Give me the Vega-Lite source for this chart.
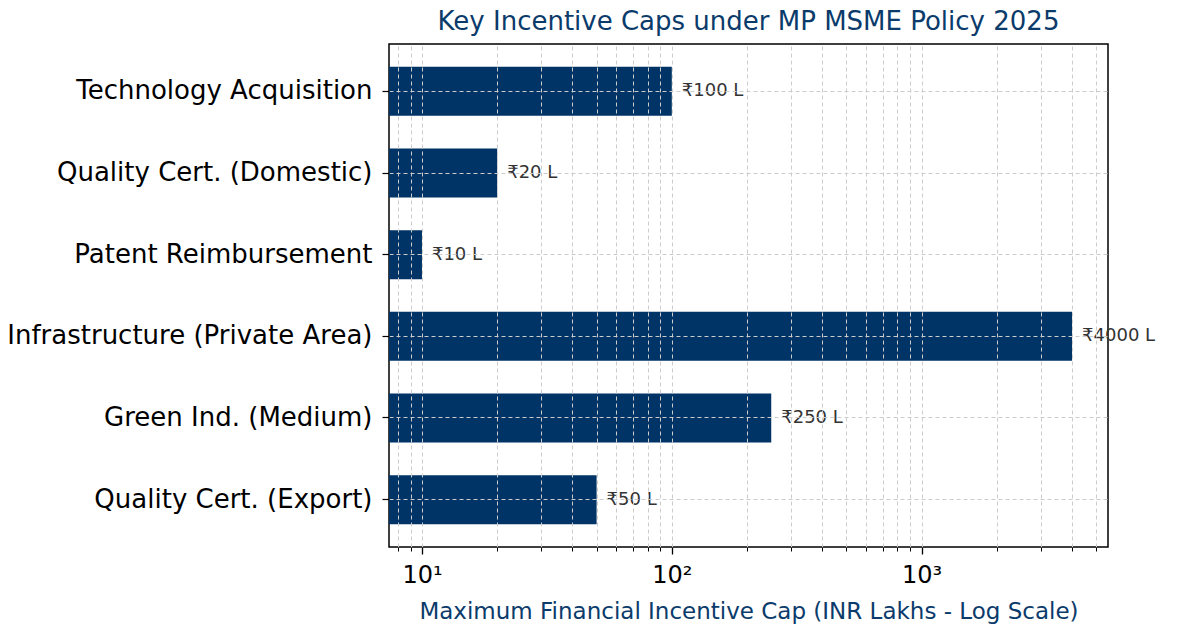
{
  "$schema": "https://vega.github.io/schema/vega-lite/v6.json",
  "width": 719,
  "height": 503,
  "autosize": {"type": "none"},
  "padding": {"left": 389, "top": 44, "right": 74, "bottom": 81},
  "background": "white",
  "config": {
    "font": "DejaVu Sans",
    "view": {"stroke": "black", "strokeWidth": 1.5}
  },
  "title": {
    "text": "Key Incentive Caps under MP MSME Policy 2025",
    "fontSize": 26,
    "fontWeight": "normal",
    "color": "#0b3b6b",
    "font": "DejaVu Sans",
    "offset": 9,
    "anchor": "middle"
  },
  "data": {
    "values": [
      {"category": "Technology Acquisition", "cap": 100, "label": "₹100 L"},
      {"category": "Quality Cert. (Domestic)", "cap": 20, "label": "₹20 L"},
      {"category": "Patent Reimbursement", "cap": 10, "label": "₹10 L"},
      {"category": "Infrastructure (Private Area)", "cap": 4000, "label": "₹4000 L"},
      {"category": "Green Ind. (Medium)", "cap": 250, "label": "₹250 L"},
      {"category": "Quality Cert. (Export)", "cap": 50, "label": "₹50 L"}
    ]
  },
  "encoding": {
    "y": {
      "field": "category",
      "type": "nominal",
      "sort": null,
      "scale": {"paddingInner": 0.4, "paddingOuter": 0.28},
      "axis": {
        "title": null,
        "zindex": 1,
        "grid": true,
        "gridColor": "#cccccc",
        "gridDash": [4, 3],
        "gridWidth": 1,
        "domain": false,
        "tickColor": "black",
        "tickSize": 7,
        "tickWidth": 1.2,
        "labelFontSize": 26,
        "labelColor": "black",
        "labelPadding": 10,
        "labelLimit": 420
      }
    },
    "x": {
      "field": "cap",
      "type": "quantitative",
      "scale": {"type": "log", "domain": [7.38, 5570], "nice": false, "zero": false},
      "axis": {
        "title": "Maximum Financial Incentive Cap (INR Lakhs - Log Scale)",
        "titleFontSize": 23,
        "titleFontWeight": "normal",
        "titleColor": "#0b3b6b",
        "titlePadding": 13,
        "zindex": 1,
        "values": [8, 9, 10, 20, 30, 40, 50, 60, 70, 80, 90, 100, 200, 300, 400, 500, 600, 700, 800, 900, 1000, 2000, 3000, 4000, 5000],
        "labelExpr": "datum.value == 10 ? '10¹' : datum.value == 100 ? '10²' : datum.value == 1000 ? '10³' : ''",
        "labelOverlap": false,
        "labelFlush": false,
        "labelFontSize": 24,
        "labelColor": "black",
        "labelPadding": 9,
        "grid": true,
        "gridColor": "#cccccc",
        "gridDash": [4, 3],
        "gridWidth": 1,
        "domain": false,
        "tickColor": "black",
        "tickSize": {"condition": {"test": "datum.value == 10 || datum.value == 100 || datum.value == 1000", "value": 7}, "value": 4},
        "tickWidth": {"condition": {"test": "datum.value == 10 || datum.value == 100 || datum.value == 1000", "value": 1.3}, "value": 1}
      }
    }
  },
  "layer": [
    {
      "mark": {"type": "bar", "color": "#003366"},
      "encoding": {"x2": {"datum": 7.38}}
    },
    {
      "mark": {"type": "text", "align": "left", "baseline": "middle", "dx": 10, "fontSize": 18, "color": "#333333"},
      "encoding": {"text": {"field": "label"}}
    }
  ]
}
